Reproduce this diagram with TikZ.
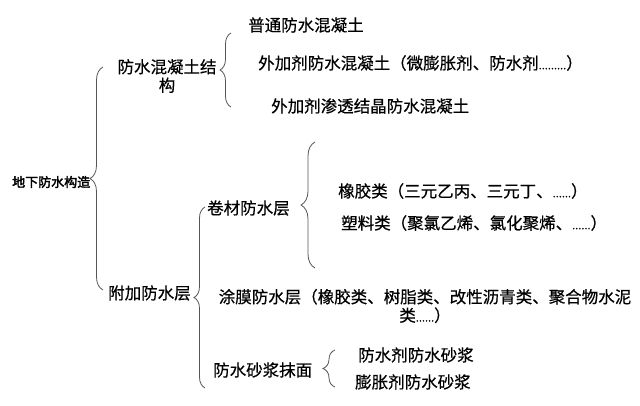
\documentclass[tikz,border=0pt]{standalone}
\usepackage{fontspec}
\setmainfont{Noto Sans CJK SC}[FakeBold=0.5]
\newfontfamily\cjkb[FakeBold=2.5]{Noto Sans CJK SC}
\usetikzlibrary{decorations.pathreplacing}
\definecolor{bracegray}{HTML}{555555}
\tikzset{
  lbl/.style={inner sep=0pt, anchor=west, font=\fontsize{16.5pt}{18pt}\selectfont, text=black},
  rootlbl/.style={inner sep=0pt, anchor=west, font=\cjkb\fontsize{13pt}{15pt}\selectfont, text=black},
  twoline/.style={inner sep=0pt, align=center, font=\fontsize{16.5pt}{18.5pt}\selectfont, text=black},
  bracestyle/.style={draw=bracegray, line width=0.8pt, decorate, decoration={brace, amplitude=#1}},
}
\newcommand{\dd}[1]{{\fontsize{11pt}{12pt}\selectfont #1}}
\begin{document}
\begin{tikzpicture}[x=1pt,y=-1pt]
\useasboundingbox[fill=white] (0,0) rectangle (640,405);
% nodes
\node[rootlbl] (root) at (12,182) {地下防水构造};
\node[twoline] (conc) at (167,76) {防水混凝土结\\构};
\node[lbl] (c1) at (248,25) {普通防水混凝土};
\node[lbl] (c2) at (258,63) {外加剂防水混凝土（微膨胀剂、防水剂\dd{.........}）};
\node[lbl] (c3) at (271,106) {外加剂渗透结晶防水混凝土};
\node[lbl] (add) at (108,293) {附加防水层};
\node[lbl] (roll) at (207,208) {卷材防水层};
\node[lbl] (r1) at (338,191) {橡胶类（三元乙丙、三元丁、\dd{......}）};
\node[lbl] (r2) at (341,223) {塑料类（聚氯乙烯、氯化聚烯、\dd{......}）};
\node[twoline] (coat) at (425,306) {涂膜防水层（橡胶类、树脂类、改性沥青类、聚合物水泥\\类\dd{......}）};
\node[lbl] (mortar) at (213,370) {防水砂浆抹面};
\node[lbl] (m1) at (358,355) {防水剂防水砂浆};
\node[lbl] (m2) at (355,382) {膨胀剂防水砂浆};
% brace end points
\coordinate (b1t) at (103,67);  \coordinate (b1b) at (103,290);
\coordinate (b2t) at (231,33);  \coordinate (b2b) at (231,107);
\coordinate (b3t) at (205,207); \coordinate (b3b) at (205,388);
\coordinate (b4t) at (315,142); \coordinate (b4b) at (315,268);
\coordinate (b5t) at (335,350); \coordinate (b5b) at (335,387);
% braces
\draw[bracestyle=13pt] (b1b) -- (b1t);
\draw[bracestyle=11pt] (b2b) -- (b2t);
\draw[bracestyle=11pt] (b3b) -- (b3t);
\draw[bracestyle=14pt] (b4b) -- (b4t);
\draw[bracestyle=12pt] (b5b) -- (b5t);
\end{tikzpicture}
\end{document}
